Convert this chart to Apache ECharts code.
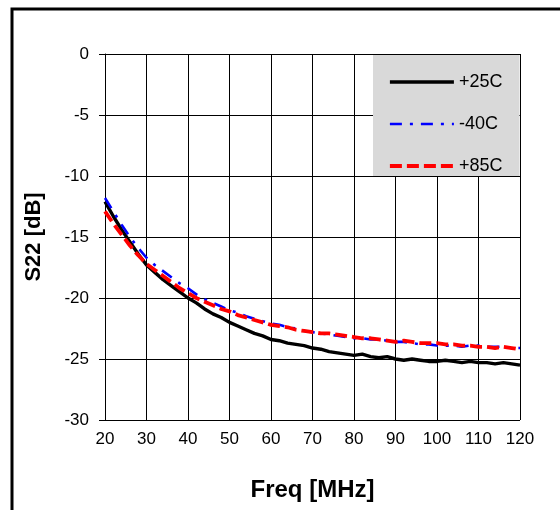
<!DOCTYPE html>
<html>
<head>
<meta charset="utf-8">
<script src="https://cdn.jsdelivr.net/npm/echarts@6/dist/echarts.min.js"></script>
<style>
  html, body { margin: 0; padding: 0; background: #fff; }
  #chart { width: 560px; height: 510px; }
</style>
</head>
<body>
<div id="chart"></div>
<script>
// Output return loss S22 versus frequency at three temperatures
const freqMHz = [20, 22, 24, 26, 28, 30, 32, 34, 36, 38, 40, 42, 44, 46, 48, 50, 52, 54, 56, 58,
  60, 62, 64, 66, 68, 70, 72, 74, 76, 78, 80, 82, 84, 86, 88, 90, 92, 94, 96, 98,
  100, 102, 104, 106, 108, 110, 112, 114, 116, 118, 120];

const s22_p25C = [-12.1, -13.3, -14.4, -15.4, -16.4, -17.3, -17.9, -18.5, -19.0, -19.5,
  -20.0, -20.4, -20.9, -21.3, -21.6, -22.0, -22.3, -22.6, -22.9, -23.1,
  -23.4, -23.5, -23.7, -23.8, -23.9, -24.1, -24.2, -24.4, -24.5, -24.6,
  -24.7, -24.6, -24.8, -24.9, -24.8, -25.0, -25.1, -25.0, -25.1, -25.2,
  -25.2, -25.1, -25.2, -25.3, -25.2, -25.3, -25.3, -25.4, -25.3, -25.4, -25.5];

const s22_m40C = [-11.8, -12.9, -14.0, -15.0, -15.9, -16.7, -17.3, -17.8, -18.3, -18.8,
  -19.2, -19.7, -20.1, -20.4, -20.7, -21.0, -21.2, -21.5, -21.7, -21.9,
  -22.1, -22.2, -22.4, -22.5, -22.7, -22.8, -22.9, -23.0, -23.1, -23.2,
  -23.3, -23.3, -23.4, -23.4, -23.5, -23.6, -23.6, -23.7, -23.8, -23.8,
  -23.9, -23.9, -23.9, -24.0, -23.9, -23.9, -24.0, -24.0, -24.0, -24.1, -24.1];

const s22_p85C = [-12.9, -13.9, -14.8, -15.7, -16.5, -17.2, -17.7, -18.2, -18.7, -19.2,
  -19.6, -20.0, -20.3, -20.6, -20.9, -21.1, -21.4, -21.6, -21.8, -22.0,
  -22.2, -22.3, -22.4, -22.6, -22.7, -22.8, -22.9, -22.9, -23.0, -23.1,
  -23.2, -23.3, -23.3, -23.4, -23.5, -23.6, -23.5, -23.6, -23.7, -23.7,
  -23.7, -23.8, -23.8, -23.9, -23.9, -24.0, -24.0, -24.1, -24.0, -24.1, -24.2];

const seriesNames = ['+25C', '-40C', '+85C'];
const xTitle = 'Freq [MHz]';
const yTitle = 'S22 [dB]';

const pairs = (ys) => freqMHz.map((f, i) => [f, ys[i]]);
const FONT = '"Liberation Sans", Arial, sans-serif';

const chart = echarts.init(document.getElementById('chart'), null, { renderer: 'canvas' });

chart.setOption({
  backgroundColor: '#fff',
  animation: false,
  textStyle: { fontFamily: FONT, color: '#000' },
  grid: { left: 105, right: 40, top: 54, bottom: 90, containLabel: false },
  xAxis: {
    type: 'value', min: 20, max: 120, interval: 10,
    name: xTitle, nameLocation: 'middle', nameGap: 58,
    nameTextStyle: { fontFamily: FONT, fontSize: 24, fontWeight: 'bold', color: '#000' },
    axisLine: { show: true, lineStyle: { color: '#000', width: 1 } },
    axisTick: { show: true, length: 6, lineStyle: { color: '#000', width: 1 } },
    axisLabel: { fontFamily: FONT, fontSize: 17, color: '#000', margin: 11 },
    splitLine: { show: true, lineStyle: { color: '#000', width: 1 } }
  },
  yAxis: {
    type: 'value', min: -30, max: 0, interval: 5,
    name: yTitle, nameLocation: 'middle', nameGap: 60,
    nameTextStyle: { fontFamily: FONT, fontSize: 22, fontWeight: 'bold', color: '#000' },
    axisLine: { show: true, lineStyle: { color: '#000', width: 1 } },
    axisTick: { show: true, length: 6, lineStyle: { color: '#000', width: 1 } },
    axisLabel: { fontFamily: FONT, fontSize: 17, color: '#000', margin: 16 },
    splitLine: { show: true, lineStyle: { color: '#000', width: 1 } }
  },
  legend: {
    orient: 'vertical', left: 383, top: 68,
    itemWidth: 64, itemHeight: 16, itemGap: 24,
    data: seriesNames,
    textStyle: { fontFamily: FONT, fontSize: 18, color: '#000', padding: [0, 0, 0, 0] },
    lineStyle: { width: 'inherit' },
    itemStyle: { opacity: 0 },
    selectedMode: false
  },
  graphic: [
    {
      type: 'rect', z: 1, silent: true,
      shape: { x: 373, y: 55, width: 146.5, height: 121 },
      style: { fill: '#d9d9d9' }
    },
    {
      type: 'rect', z: 10, silent: true,
      shape: { x: 12, y: 9, width: 620, height: 620 },
      style: { fill: 'none', stroke: '#000', lineWidth: 3 }
    }
  ],
  series: [
    {
      name: seriesNames[0], type: 'line', data: pairs(s22_p25C),
      symbol: 'none', z: 3,
      lineStyle: { color: '#000', width: 3.4 }
    },
    {
      name: seriesNames[1], type: 'line', data: pairs(s22_m40C),
      symbol: 'none', z: 4,
      lineStyle: { color: '#0000ff', width: 2.6, type: [12, 8, 3, 8] }
    },
    {
      name: seriesNames[2], type: 'line', data: pairs(s22_p85C),
      symbol: 'none', z: 5,
      lineStyle: { color: '#ff0000', width: 3.8, type: [12, 5] }
    }
  ]
});
</script>
</body>
</html>
